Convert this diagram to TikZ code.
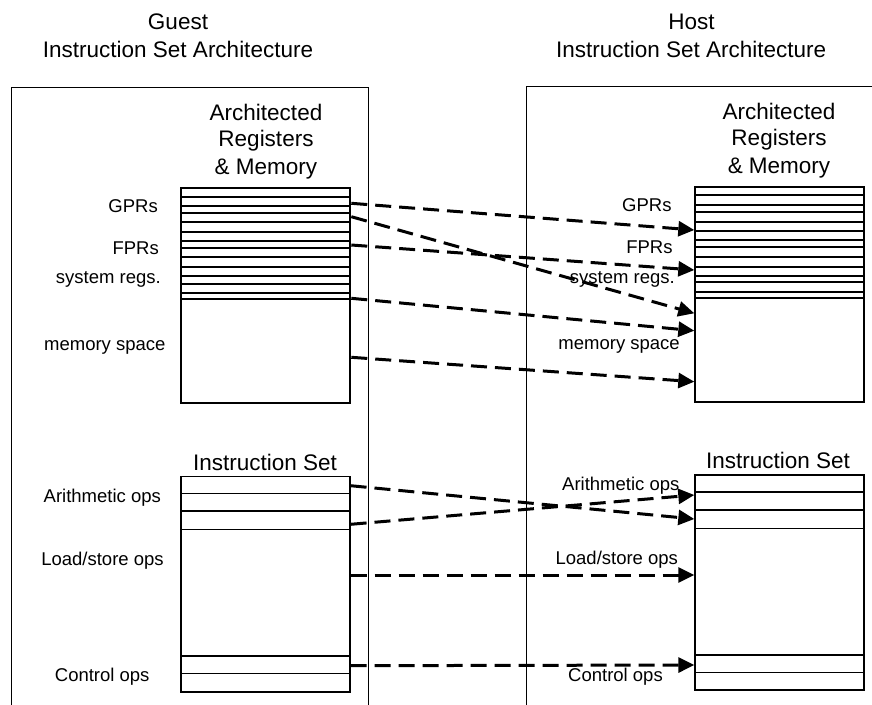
\documentclass[tikz,border=0pt]{standalone}
\usepackage{fontspec}
\setmainfont{Liberation Sans}
\usetikzlibrary{arrows.meta}
\begin{document}
\begin{tikzpicture}[x=1pt,y=-1pt,
  big/.style={font=\fontsize{22.5}{26}\selectfont, inner sep=0pt, anchor=base},
  small/.style={font=\fontsize{18.5}{22}\selectfont, inner sep=0pt},
  frame/.style={line width=1pt},
  regbox/.style={draw, line width=2pt, anchor=north west, inner sep=0pt},
  regline/.style={line width=1.9pt},
  insbox/.style={draw, line width=1.3pt, anchor=north west, inner sep=0pt},
  insline/.style={line width=1.3pt},
  maparrow/.style={line width=3pt, dash pattern=on 16pt off 8pt, -{Triangle[length=16pt,width=15pt]}}
]
\useasboundingbox (0,0) rectangle (872,704);

% outer frames
\draw[frame] (11,705) -- (11,87) -- (368,87) -- (368,705);
\draw[frame] (526,705) -- (526,86) -- (873,86);

% titles
\node[big] (gt1) at (178,29.3) {Guest};
\node[big] (gt2) at (178,57.3) {Instruction Set Architecture};
\node[big] (ht1) at (691.5,29) {Host};
\node[big] (ht2) at (691.2,57) {Instruction Set Architecture};

\node[big] (la1) at (266,120.7) {Architected};
\node[big] (la2) at (266,146.7) {Registers};
\node[big] (la3) at (266,174.5) {\& Memory};
\node[big] (ra1) at (779,119.3) {Architected};
\node[big] (ra2) at (779,145.7) {Registers};
\node[big] (ra3) at (779,173.5) {\& Memory};

\node[big] (lis) at (265,470) {Instruction Set};
\node[big] (ris) at (778,468.3) {Instruction Set};

% register stacks
\node[regbox, minimum width=169pt, minimum height=215pt] (lreg) at (180.3,187.3) {};
\foreach \y in {196.7,205.7,213.3,222.3,231.7,240.7,248.3,257.3,266.7,276,284,293.3,299.3}
  \draw[regline] (lreg.west |- 0,\y) -- (lreg.east |- 0,\y);
\node[regbox, minimum width=168.6pt, minimum height=215pt] (rreg) at (694.3,185.7) {};
\foreach \y in {195,205,212.3,221.7,230.7,240,246.7,256.7,266.7,276,282.3,291.7,298.3}
  \draw[regline] (rreg.west |- 0,\y) -- (rreg.east |- 0,\y);

% instruction set boxes
\node[insbox, minimum width=169pt, minimum height=215.6pt] (lins) at (180.3,475.7) {};
\foreach \y in {493.3,511,529.3,656,673.7}
  \draw[insline] (lins.west |- 0,\y) -- (lins.east |- 0,\y);
\node[insbox, minimum width=169pt, minimum height=215pt] (rins) at (694.3,474.3) {};
\foreach \y in {492,510,528.3,655,672.7}
  \draw[insline] (rins.west |- 0,\y) -- (rins.east |- 0,\y);

% left labels
\node[small, anchor=base east] (lgpr) at (158,212.7) {GPRs};
\node[small, anchor=base east] (lfpr) at (159,254) {FPRs};
\node[small, anchor=base east] (lsys) at (161,283.5) {system regs.};
\node[small, anchor=base east] (lmem) at (165.7,350) {memory space};
\node[small, anchor=base] (lari) at (102.3,502.3) {Arithmetic ops};
\node[small, anchor=base] (lld) at (102.5,565) {Load/store ops};
\node[small, anchor=base] (lctl) at (102.2,681.7) {Control ops};

% right labels
\node[small, anchor=base east] (rgpr) at (671.7,211.7) {GPRs};
\node[small, anchor=base east] (rfpr) at (672.7,253.3) {FPRs};
\node[small, anchor=base east] (rsys) at (675,283.3) {system regs.};
\node[small, anchor=base east] (rmem) at (680,349) {memory space};
\node[small, anchor=base] (rari) at (620.8,490) {Arithmetic ops};
\node[small, anchor=base] (rld) at (616.8,564) {Load/store ops};
\node[small, anchor=base] (rctl) at (615.5,681) {Control ops};

% connector end points
\coordinate (s1) at (lreg.east |- 0,203.3);
\coordinate (s2) at (lreg.east |- 0,216.7);
\coordinate (s3) at (lreg.east |- 0,245);
\coordinate (s4) at (lreg.east |- 0,298.3);
\coordinate (s5) at (lreg.east |- 0,357.3);
\coordinate (t1) at (rreg.west |- 0,230);
\coordinate (t2) at (rreg.west |- 0,313.3);
\coordinate (t3) at (rreg.west |- 0,270);
\coordinate (t4) at (rreg.west |- 0,330.7);
\coordinate (t5) at (rreg.west |- 0,381.7);
\coordinate (u1) at (lins.east |- 0,485.7);
\coordinate (u2) at (lins.east |- 0,524.3);
\coordinate (u3) at (lins.east |- 0,575);
\coordinate (u4) at (lins.east |- 0,665.7);
\coordinate (v1) at (rins.west |- 0,519);
\coordinate (v2) at (rins.west |- 0,495);
\coordinate (v3) at (rins.west |- 0,575);
\coordinate (v4) at (rins.west |- 0,665);

% mapping arrows
\draw[maparrow] (s1) -- (t1);
\draw[maparrow] (s2) -- (t2);
\draw[maparrow] (s3) -- (t3);
\draw[maparrow] (s4) -- (t4);
\draw[maparrow] (s5) -- (t5);
\draw[maparrow] (u1) -- (v1);
\draw[maparrow] (u2) -- (v2);
\draw[maparrow] (u3) -- (v3);
\draw[maparrow] (u4) -- (v4);
\end{tikzpicture}
\end{document}
